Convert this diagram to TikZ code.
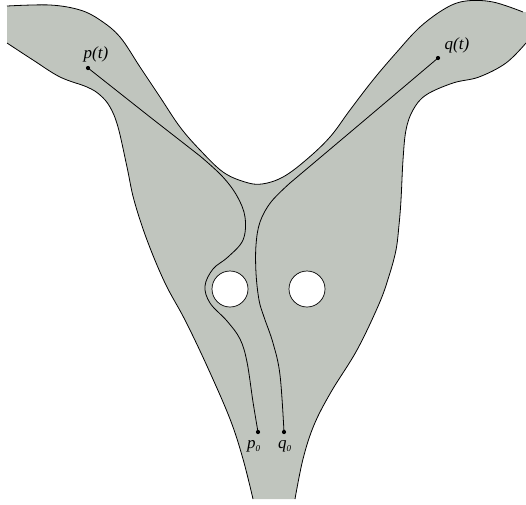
\documentclass[tikz,border=0pt]{standalone}
\usepackage{fontspec}
\setmainfont{Liberation Serif}
\definecolor{region}{RGB}{192,197,190}
\newcommand{\lowsub}[1]{\raisebox{-3.5pt}{\fontsize{9}{9}\selectfont #1}}
\begin{document}
\begin{tikzpicture}[x=1pt,y=-1pt,
  edge/.style={line width=0.8pt, black},
  curvepath/.style={line width=0.8pt, black},
  hole/.style={fill=white, draw=black, line width=0.7pt},
  dot/.style={circle, fill=black, inner sep=0pt, minimum size=4.2pt},
  lab/.style={font=\fontsize{17}{17}\selectfont\itshape, inner sep=0pt}]
\useasboundingbox (0,0) rectangle (526,504);
% filled region
\fill[region] plot[smooth, tension=0.6] coordinates {(7,6) (50,5) (80,10) (100,20) (120,37) (140,67) (160,97) (180,127) (200,150) (223,172) (245,182) (262,184) (283,177) (306,160) (330,137) (350,110) (373,80) (396,53) (420,27) (446,8) (466,1) (493,2) (523,12)}
  -- (526,12)
  -- plot[smooth, tension=0.6] coordinates {(526,43) (506,63) (479,77) (453,83) (426,95) (413,110) (406,130) (403,160) (401,200) (399,225) (396,250) (389,276) (379,304) (357,350) (331,392) (314,425) (303,459) (295,499)}
  -- plot[smooth, tension=0.6] coordinates {(253,499) (243,459) (230,419) (207,366) (185,320) (165,283) (147,240) (134,200) (127,167) (118,127) (110,107) (100,95) (87,87) (60,77) (33,60) (7,43)}
  -- cycle;
% boundary strokes
\draw[edge] plot[smooth, tension=0.6] coordinates {(7,6) (50,5) (80,10) (100,20) (120,37) (140,67) (160,97) (180,127) (200,150) (223,172) (245,182) (262,184) (283,177) (306,160) (330,137) (350,110) (373,80) (396,53) (420,27) (446,8) (466,1) (493,2) (523,12)};
\draw[edge] plot[smooth, tension=0.6] coordinates {(526,43) (506,63) (479,77) (453,83) (426,95) (413,110) (406,130) (403,160) (401,200) (399,225) (396,250) (389,276) (379,304) (357,350) (331,392) (314,425) (303,459) (295,499)};
\draw[edge] plot[smooth, tension=0.6] coordinates {(253,499) (243,459) (230,419) (207,366) (185,320) (165,283) (147,240) (134,200) (127,167) (118,127) (110,107) (100,95) (87,87) (60,77) (33,60) (7,43)};
% holes
\node[hole, circle, minimum size=36pt, inner sep=0pt] (h1) at (230,289) {};
\node[hole, circle, minimum size=36pt, inner sep=0pt] (h2) at (307,289) {};
% points
\node[dot] (pt) at (88,68) {};
\node[dot] (qt) at (438,58) {};
\node[dot] (p0) at (258,432) {};
\node[dot] (q0) at (284,432) {};
% paths
\draw[curvepath] (pt.center) -- (150,117) -- (200,156)
  plot[smooth, tension=0.6] coordinates {(200,156) (222,176) (237,196) (245,217) (243,240) (228,257) (213,269) (205,286) (210,303) (227,321) (240,339) (247,362) (253,402) (258,432)};
\draw[curvepath] (qt.center) -- (360,124) -- (290,183)
  plot[smooth, tension=0.6] coordinates {(290,183) (271,202) (260,222) (256,245) (256,273) (259,300) (264,317) (273,343) (280,375) (284,432)};
% labels
\node[lab] (lpt) at (96,54) {p(t)};
\node[lab] (lqt) at (457,45) {q(t)};
\node[lab, anchor=base west] (lp0) at (247,448) {p\lowsub{0}};
\node[lab, anchor=base west] (lq0) at (278,448) {q\lowsub{0}};
\end{tikzpicture}
\end{document}
